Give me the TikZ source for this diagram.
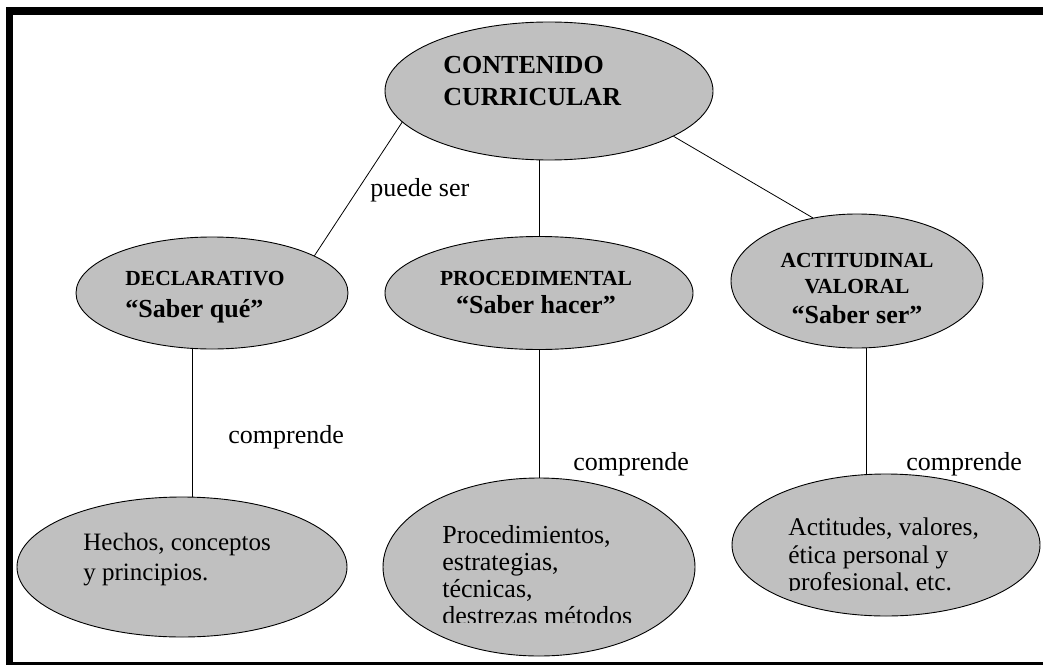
\documentclass[tikz,border=0pt]{standalone}
\usepackage{fontspec}
\setmainfont{Liberation Serif}
\usetikzlibrary{shapes.geometric,positioning}
\definecolor{blobgray}{RGB}{192,192,192}

\begin{document}
\begin{tikzpicture}[x=1pt,y=-1pt,line width=0.8pt,
  blob/.style={draw,ellipse,fill=blobgray,line width=0.9pt,inner sep=0pt},
  head/.style={font=\bfseries\fontsize{21.5}{28}\selectfont,inner sep=0pt,anchor=north},
  body/.style={font=\fontsize{25}{30}\selectfont,inner sep=0pt,anchor=north west,align=left},
  lbl/.style={font=\fontsize{26}{30}\selectfont,inner sep=0pt,anchor=base west}]
\useasboundingbox (0,0) rectangle (1043,666);
% frame
\fill (6,7) rectangle (1043,15);
\fill (6,7) rectangle (13,664);
\fill (6,662) rectangle (1043,664.5);

% ellipses
\node[blob,minimum width=328pt,minimum height=138pt] (cc) at (549,91) {};
\node[blob,minimum width=272pt,minimum height=112pt] (decl) at (212,293) {};
\node[blob,minimum width=308pt,minimum height=113pt] (proc) at (539,293) {};
\node[blob,minimum width=252pt,minimum height=134pt] (act) at (857,281) {};
\node[blob,minimum width=330pt,minimum height=140pt] (hechos) at (182,567) {};
\node[blob,minimum width=312pt,minimum height=178pt] (procs) at (539,567) {};
\node[blob,minimum width=308pt,minimum height=142pt] (actit) at (886,545) {};

% connectors
\draw (cc.192) -- (decl.20);
\draw (cc.south -| proc.north) -- (proc.north);
\draw (cc.340) -- (act.125);
\draw ([xshift=-20pt]decl.south) -- ([xshift=-20pt]decl.south |- hechos.north);
\draw (proc.south) -- (procs.north);
\draw ([xshift=9pt]act.south) -- ([xshift=9pt]act.south |- actit.north);

% texts
\node[font=\bfseries\fontsize{26}{32}\selectfont,inner sep=0pt,anchor=north west,align=left]
  (cctext) at (443,55.8) {CONTENIDO\\CURRICULAR};
\node[head,anchor=north west,align=left] (decltext) at (125,270.8)
  {DECLARATIVO\\[4pt]\fontsize{26}{32}\selectfont “Saber qué”};
\node[head,align=center] (proctext) at (536,270.8)
  {PROCEDIMENTAL\\\fontsize{26}{32}\selectfont “Saber hacer”};
\node[head,align=center] (acttext) at (857,252.8)
  {ACTITUDINAL\\[-2pt]VALORAL\\[2pt]\fontsize{26}{32}\selectfont “Saber ser”};

\node[body] (hechostext) at (83,533) {Hechos, conceptos\\y principios.};
\begin{scope}
\clip (380,470) rectangle (700,622);
\node[body,font=\fontsize{26}{27}\selectfont] (procstext) at (442,525.2)
  {Procedimientos,\\estrategias,\\técnicas,\\destrezas métodos};
\end{scope}
\begin{scope}
\clip (730,470) rectangle (1043,590.5);
\node[body,font=\fontsize{25.5}{27.5}\selectfont] (actittext) at (788,517.6)
  {Actitudes, valores,\\ética personal y\\profesional, etc.};
\end{scope}

% labels
\node[lbl] (lpuede) at (370,196) {puede ser};
\node[lbl] (lcomp1) at (228,443) {comprende};
\node[lbl] (lcomp2) at (573,470) {comprende};
\node[lbl] (lcomp3) at (906,470) {comprende};
\end{tikzpicture}
\end{document}
